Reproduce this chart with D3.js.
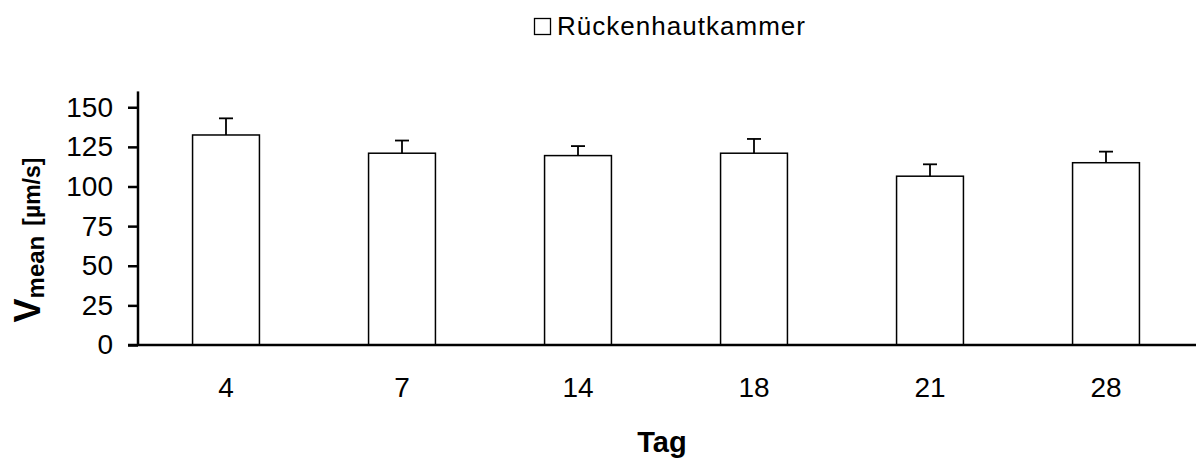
<!DOCTYPE html>
<html>
<head>
<meta charset="utf-8">
<script src="https://cdn.jsdelivr.net/npm/d3@7"></script>
<style>
  body { margin: 0; background: #fff; }
  svg text { font-family: "Liberation Sans", Arial, sans-serif; fill: #000; }
</style>
</head>
<body>
<svg id="chart" width="1196" height="464"></svg>
<script>
// data
var days = ["4", "7", "14", "18", "21", "28"]
var vmean = [132.5, 121, 119.5, 121, 106.5, 115]
var sd = [10.5, 8, 6, 9, 7.5, 7]
var yTicks = [0, 25, 50, 75, 100, 125, 150]
var seriesName = "Rückenhautkammer"

var svg = d3.select("#chart")
var fam = "Liberation Sans, Arial, sans-serif"

// scales
var x = d3.scaleBand()
  .domain(days)
  .range([138, 1194])
  .paddingInner(0.62)
  .paddingOuter(0.31)

var y = d3.scaleLinear()
  .domain([0, 160])
  .range([345, 91.4])

// bars
svg.append("g")
  .selectAll("rect")
  .data(days)
  .join("rect")
    .attr("x", function(d) { return x(d) })
    .attr("y", function(d, i) { return y(vmean[i]) })
    .attr("width", x.bandwidth())
    .attr("height", function(d, i) { return y(0) - y(vmean[i]) })
    .attr("fill", "#fff")
    .attr("stroke", "#000")
    .attr("stroke-width", 1.5)

// error bars (upper only)
var err = svg.append("g").attr("stroke", "#000").attr("stroke-width", 1.8)
days.forEach(function(d, i) {
  var cx = x(d) + x.bandwidth() / 2
  err.append("line")
    .attr("x1", cx).attr("x2", cx)
    .attr("y1", y(vmean[i])).attr("y2", y(vmean[i] + sd[i]))
  err.append("line")
    .attr("x1", cx - 7).attr("x2", cx + 7)
    .attr("y1", y(vmean[i] + sd[i])).attr("y2", y(vmean[i] + sd[i]))
})

// y axis
var yAxis = svg.append("g")
  .attr("transform", "translate(138,0)")
  .call(d3.axisLeft(y).tickValues(yTicks).tickSize(10).tickPadding(15))
yAxis.select(".domain").attr("stroke-width", 2.5)
  .attr("d", "M0," + y(160) + "V" + y(0))
yAxis.selectAll(".tick line").attr("stroke-width", 2.5)
yAxis.selectAll(".tick text").attr("font-size", 28).attr("font-family", fam)

// x axis
var xAxis = svg.append("g")
  .attr("transform", "translate(0," + y(0) + ")")
  .call(d3.axisBottom(x).tickSize(0).tickPadding(32))
xAxis.select(".domain").attr("stroke-width", 2.5)
  .attr("d", "M128,0H1196")
xAxis.selectAll(".tick text").attr("font-size", 28).attr("font-family", fam)

// axis titles
svg.append("text")
  .attr("x", 662).attr("y", 452)
  .attr("text-anchor", "middle")
  .attr("font-size", 29).attr("font-weight", "bold")
  .text("Tag")

var ylab = svg.append("text")
  .attr("transform", "translate(40,240) rotate(-90)")
  .attr("text-anchor", "middle")
  .attr("font-weight", "bold")
ylab.append("tspan").attr("font-size", 36).text("V")
ylab.append("tspan").attr("font-size", 24).attr("dy", 4).text("mean")
ylab.append("tspan").attr("font-size", 23).attr("dy", -4).attr("dx", 10).text("[µm/s]")

// legend
svg.append("rect")
  .attr("x", 534.5).attr("y", 18.5).attr("width", 16).attr("height", 16)
  .attr("fill", "#fff").attr("stroke", "#000").attr("stroke-width", 1.3)
svg.append("text")
  .attr("x", 557).attr("y", 35)
  .attr("font-size", 26)
  .attr("textLength", 248).attr("lengthAdjust", "spacing")
  .text(seriesName)
</script>
</body>
</html>
